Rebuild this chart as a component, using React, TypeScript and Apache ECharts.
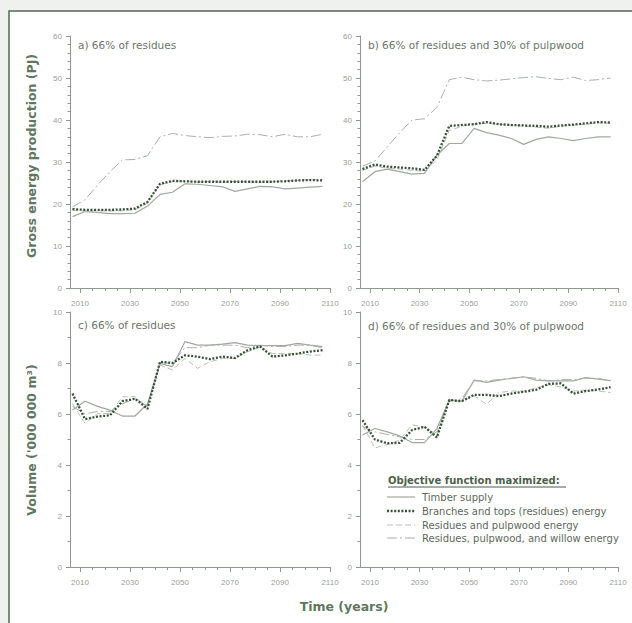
import React, { useEffect, useRef } from "react";
import * as echarts from "echarts";

const years = [2007, 2012, 2017, 2022, 2027, 2032, 2037, 2042, 2047, 2052, 2057, 2062, 2067, 2072, 2077, 2082, 2087, 2092, 2097, 2102, 2107];
const xLabelValues = [2010, 2030, 2050, 2070, 2090, 2110];
const xMinorValues = [2010, 2015, 2020, 2025, 2030, 2035, 2040, 2045, 2050, 2055, 2060, 2065, 2070, 2075, 2080, 2085, 2090, 2095, 2100, 2105, 2110];

const seriesNames = [
  "Timber supply",
  "Branches and tops (residues) energy",
  "Residues and pulpwood energy",
  "Residues, pulpwood, and willow energy",
];

// Panel a) Gross energy production (PJ), 66% of residues
const aTimber = [17.0, 18.2, 18.0, 17.7, 17.7, 17.8, 19.5, 22.3, 22.8, 24.8, 24.7, 24.4, 24.1, 23.0, 23.6, 24.2, 24.1, 23.6, 23.8, 24.0, 24.2];
const aResidues = [18.8, 18.6, 18.6, 18.6, 18.7, 18.9, 20.5, 24.8, 25.5, 25.4, 25.3, 25.3, 25.3, 25.3, 25.3, 25.3, 25.3, 25.4, 25.6, 25.7, 25.6];
const aPulpwood = [18.5, 18.3, 18.4, 18.3, 18.4, 18.6, 20.2, 24.6, 25.3, 25.5, 25.2, 25.4, 25.2, 25.4, 25.3, 25.2, 25.3, 25.5, 25.6, 25.8, 25.8];
const aWillow = [19.3, 21.0, 24.5, 27.7, 30.5, 30.6, 31.5, 36.0, 36.8, 36.3, 36.0, 35.8, 36.1, 36.2, 36.6, 36.5, 36.0, 36.6, 36.0, 36.0, 36.6];

// Panel b) Gross energy production (PJ), 66% of residues and 30% of pulpwood
const bTimber = [25.3, 27.7, 28.3, 27.7, 27.1, 27.3, 31.6, 34.4, 34.4, 38.0, 37.0, 36.4, 35.6, 34.2, 35.4, 36.0, 35.6, 35.1, 35.6, 36.0, 36.0];
const bResidues = [28.3, 29.4, 28.9, 28.7, 28.5, 28.1, 31.5, 38.6, 38.8, 39.0, 39.5, 39.0, 38.8, 38.7, 38.6, 38.4, 38.7, 38.9, 39.2, 39.5, 39.4];
const bPulpwood = [28.0, 29.0, 28.5, 28.3, 28.0, 27.8, 30.5, 37.5, 38.5, 39.0, 39.2, 39.0, 38.8, 38.5, 38.3, 38.0, 38.5, 38.8, 39.0, 39.3, 39.2];
const bWillow = [29.0, 30.2, 33.6, 37.0, 40.0, 40.3, 43.0, 49.6, 50.2, 49.6, 49.3, 49.5, 49.8, 50.1, 50.3, 49.9, 49.6, 50.2, 49.4, 49.6, 50.0];

// Panel c) Volume ('000 000 m3), 66% of residues
const cTimber = [6.16, 6.5, 6.3, 6.15, 5.92, 5.92, 6.4, 7.98, 7.86, 8.84, 8.7, 8.7, 8.74, 8.8, 8.7, 8.68, 8.68, 8.68, 8.77, 8.7, 8.64];
const cResidues = [6.8, 5.8, 5.9, 5.95, 6.5, 6.6, 6.2, 8.05, 8.0, 8.3, 8.25, 8.15, 8.25, 8.2, 8.5, 8.65, 8.25, 8.3, 8.37, 8.45, 8.5];
const cPulpwood = [6.4, 5.63, 6.02, 6.02, 6.68, 6.68, 6.28, 7.92, 7.73, 8.18, 7.79, 8.05, 8.18, 8.18, 8.44, 8.64, 8.37, 8.37, 8.37, 8.31, 8.31];
const cWillow = [6.3, 6.0, 6.1, 6.1, 6.4, 6.6, 6.3, 8.0, 8.0, 8.6, 8.6, 8.7, 8.7, 8.7, 8.6, 8.7, 8.65, 8.65, 8.7, 8.7, 8.6];

// Panel d) Volume ('000 000 m3), 66% of residues and 30% of pulpwood
const dTimber = [5.18, 5.43, 5.3, 5.14, 4.88, 4.88, 5.43, 6.55, 6.49, 7.33, 7.24, 7.33, 7.4, 7.46, 7.33, 7.3, 7.3, 7.3, 7.43, 7.37, 7.31];
const dResidues = [5.76, 5.0, 4.85, 4.87, 5.37, 5.5, 5.08, 6.55, 6.5, 6.75, 6.75, 6.7, 6.8, 6.87, 6.95, 7.18, 7.2, 6.8, 6.9, 6.96, 7.05];
const dPulpwood = [5.57, 4.67, 4.8, 4.98, 5.57, 5.5, 5.18, 6.57, 6.49, 6.71, 6.38, 6.84, 6.9, 6.9, 7.02, 7.15, 7.06, 6.9, 6.94, 6.9, 6.84];
const dWillow = [5.5, 5.3, 5.2, 5.1, 5.0, 5.0, 5.3, 6.5, 6.6, 7.3, 7.3, 7.35, 7.4, 7.45, 7.4, 7.3, 7.35, 7.35, 7.4, 7.4, 7.3];

const panelTitles = [
  "a) 66% of residues",
  "b) 66% of residues and 30% of pulpwood",
  "c) 66% of residues",
  "d) 66% of residues and 30% of pulpwood",
];
const yMax = [60, 60, 10, 10];
const yInterval = [10, 10, 2, 2];
const panelData = [
  [aTimber, aResidues, aPulpwood, aWillow],
  [bTimber, bResidues, bPulpwood, bWillow],
  [cTimber, cResidues, cPulpwood, cWillow],
  [dTimber, dResidues, dPulpwood, dWillow],
];

const AXIS = "#8f9a8f";
const LABEL = "#9aa09a";
const TITLE = "#5f775f";
const TEXT = "#6b756b";
const FONT = "'Liberation Sans', Arial, sans-serif";
const WFONT = "'DejaVu Sans', Verdana, sans-serif";

const lineStyles = [
  { color: "#a0a8a0", width: 1.2, type: "solid" as any },
  { color: "#355235", width: 2.3, type: [2, 1.6] as any },
  { color: "#b9c0b9", width: 1, type: [6, 3] as any },
  { color: "#a8b0a8", width: 1, type: [10, 3, 2, 3] as any },
];

export default function App() {
  const ref = useRef<HTMLDivElement>(null);
  useEffect(() => {
    document.body.style.margin = "0";
    if (!ref.current) return;
    const chart = echarts.init(ref.current, null, { renderer: "svg" });

    const grids = [
      { left: 70, top: 36, width: 260, height: 252 },
      { left: 360, top: 36, width: 258, height: 252 },
      { left: 70, top: 312, width: 260, height: 255 },
      { left: 360, top: 312, width: 258, height: 255 },
    ];

    const xAxis: any[] = [];
    const yAxis: any[] = [];
    const series: any[] = [];
    grids.forEach((g, i) => {
      xAxis.push({
        type: "value",
        gridIndex: i,
        min: 2006,
        max: 2110,
        position: "bottom",
        axisLine: { show: true, lineStyle: { color: AXIS, width: 1 } },
        axisTick: { show: true, customValues: xLabelValues, length: 5, lineStyle: { color: AXIS } },
        axisLabel: {
          customValues: xLabelValues,
          formatter: (v: number) => String(v),
          color: LABEL,
          fontSize: 8,
          fontFamily: FONT,
          margin: 11,
        },
        splitLine: { show: false },
      });
      xAxis.push({
        type: "value",
        gridIndex: i,
        min: 2006,
        max: 2110,
        position: "bottom",
        offset: 0,
        axisLine: { show: false },
        axisTick: { show: true, customValues: xMinorValues, length: 3, lineStyle: { color: AXIS } },
        axisLabel: { show: false },
        splitLine: { show: false },
      });
      yAxis.push({
        type: "value",
        gridIndex: i,
        min: 0,
        max: yMax[i],
        interval: yInterval[i],
        axisLine: { show: true, lineStyle: { color: AXIS, width: 1 } },
        axisTick: { show: true, length: 4, lineStyle: { color: AXIS } },
        minorTick: { show: true, splitNumber: i < 2 ? 5 : 2, length: 2.5, lineStyle: { color: AXIS } },
        axisLabel: { color: LABEL, fontSize: 8, fontFamily: FONT, margin: 8 },
        splitLine: { show: false },
      });
      panelData[i].forEach((vals, k) => {
        series.push({
          type: "line",
          name: seriesNames[k],
          xAxisIndex: i * 2,
          yAxisIndex: i,
          data: years.map((yr, j) => [yr, vals[j]]),
          showSymbol: false,
          symbol: "none",
          lineStyle: lineStyles[k],
          z: k === 1 ? 5 : 3,
        });
      });
    });

    const titlePos = [
      [78, 45],
      [368, 45],
      [78, 325],
      [368, 326],
    ];

    const graphic: any[] = [
      {
        type: "rect",
        shape: { x: 9, y: 11, width: 700, height: 700 },
        style: { fill: "#ffffff", stroke: "#4f6a4f", lineWidth: 1.5 },
        z: -10,
        silent: true,
      },
      ...panelTitles.map((t, i) => ({
        type: "text",
        x: titlePos[i][0],
        y: titlePos[i][1],
        style: { text: t, fill: TEXT, font: `10.5px ${WFONT}`, verticalAlign: "middle" },
      })),
      {
        type: "text",
        x: 31,
        y: 156,
        rotation: Math.PI / 2,
        style: {
          text: "Gross energy production (PJ)",
          fill: TITLE,
          font: `bold 12.5px ${WFONT}`,
          align: "center",
          verticalAlign: "middle",
        },
      },
      {
        type: "text",
        x: 31,
        y: 440,
        rotation: Math.PI / 2,
        style: {
          text: "Volume ('000 000 m³)",
          fill: TITLE,
          font: `bold 12.5px ${WFONT}`,
          align: "center",
          verticalAlign: "middle",
        },
      },
      {
        type: "text",
        x: 344,
        y: 606,
        style: {
          text: "Time (years)",
          fill: TITLE,
          font: `bold 12.5px ${WFONT}`,
          align: "center",
          verticalAlign: "middle",
        },
      },
      {
        type: "text",
        x: 388,
        y: 480,
        style: {
          text: "Objective function maximized:",
          fill: "#4d5f4d",
          font: `bold 10px ${WFONT}`,
          verticalAlign: "middle",
        },
      },
      {
        type: "line",
        shape: { x1: 388, y1: 487, x2: 566, y2: 487 },
        style: { stroke: "#4d5f4d", lineWidth: 1 },
      },
    ];
    const legendY = [497, 511, 525, 538];
    seriesNames.forEach((n, k) => {
      graphic.push({
        type: "line",
        shape: { x1: 387, y1: legendY[k], x2: 415, y2: legendY[k] },
        style: {
          stroke: lineStyles[k].color,
          lineWidth: lineStyles[k].width,
          lineDash: lineStyles[k].type === "solid" ? null : lineStyles[k].type,
        },
      });
      graphic.push({
        type: "text",
        x: 422,
        y: legendY[k],
        style: { text: n, fill: "#5d685d", font: `10px ${WFONT}`, verticalAlign: "middle" },
      });
    });

    chart.setOption({
      animation: false,
      backgroundColor: "#eef1ee",
      grid: grids,
      xAxis,
      yAxis,
      series,
      graphic,
    });
    return () => chart.dispose();
  }, []);
  return <div ref={ref} style={{ width: 632, height: 623 }} />;
}
